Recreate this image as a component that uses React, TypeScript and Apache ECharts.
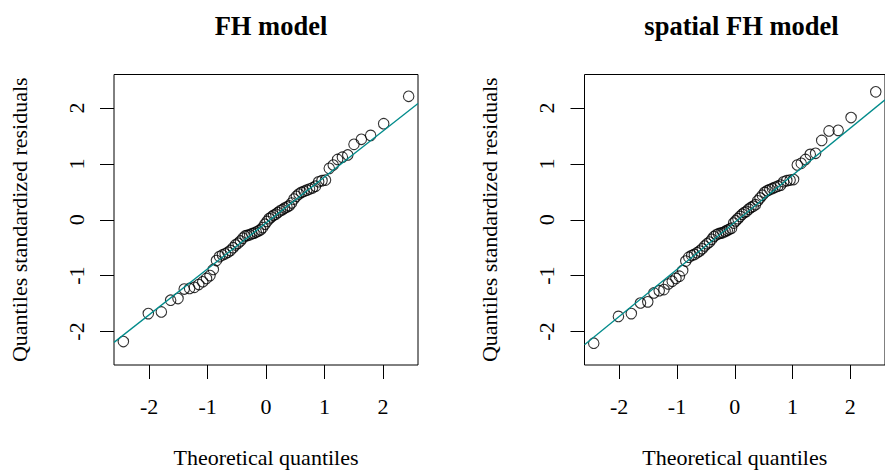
import React, { useEffect, useRef } from "react";
import * as echarts from "echarts";

// Theoretical normal quantiles (x positions of the 68 points)
const theoreticalQuantiles = [
  -2.44, -2.013, -1.79, -1.631, -1.505, -1.399, -1.307, -1.225, -1.15, -1.082,
  -1.018, -0.958, -0.901, -0.847, -0.795, -0.745, -0.698, -0.652, -0.607, -0.563,
  -0.52, -0.478, -0.437, -0.397, -0.358, -0.319, -0.28, -0.242, -0.204, -0.167,
  -0.129, -0.092, -0.055, -0.018,
  0.018, 0.055, 0.092, 0.129, 0.167, 0.204, 0.242, 0.28, 0.319, 0.358,
  0.397, 0.437, 0.478, 0.52, 0.563, 0.607, 0.652, 0.698, 0.745, 0.795,
  0.847, 0.901, 0.958, 1.018, 1.082, 1.15, 1.225, 1.307, 1.399, 1.505,
  1.631, 1.79, 2.013, 2.44,
];

// Sorted standardized residuals, FH model
const fhResiduals = [
  -2.18, -1.68, -1.65, -1.44, -1.41, -1.24, -1.23, -1.21, -1.16, -1.11,
  -1.05, -1.0, -0.89, -0.73, -0.66, -0.63, -0.61, -0.58, -0.55, -0.5,
  -0.45, -0.42, -0.38, -0.33, -0.29, -0.28, -0.27, -0.25, -0.24, -0.22,
  -0.2, -0.18, -0.14, -0.08,
  -0.03, 0.02, 0.05, 0.08, 0.1, 0.13, 0.16, 0.18, 0.21, 0.23,
  0.25, 0.3, 0.37, 0.42, 0.46, 0.49, 0.51, 0.53, 0.55, 0.57,
  0.6, 0.68, 0.7, 0.71, 0.92, 0.98, 1.08, 1.12, 1.16, 1.35,
  1.44, 1.51, 1.72, 2.21,
];

// Sorted standardized residuals, spatial FH model
const spatialFhResiduals = [
  -2.21, -1.73, -1.68, -1.49, -1.47, -1.31, -1.27, -1.25, -1.15, -1.1,
  -1.05, -1.01, -0.91, -0.74, -0.67, -0.64, -0.62, -0.59, -0.56, -0.52,
  -0.47, -0.43, -0.4, -0.35, -0.3, -0.27, -0.25, -0.24, -0.23, -0.21,
  -0.19, -0.17, -0.15, -0.06,
  -0.02, 0.02, 0.06, 0.1, 0.13, 0.15, 0.19, 0.22, 0.24, 0.27,
  0.34, 0.39, 0.44, 0.49, 0.52, 0.54, 0.56, 0.58, 0.6, 0.62,
  0.68, 0.7, 0.71, 0.72, 0.98, 1.01, 1.08, 1.17, 1.19, 1.42,
  1.59, 1.6, 1.83, 2.29,
];

// qqline: [intercept, slope]
const fhLine = [-0.058, 0.822];
const spatialFhLine = [-0.046, 0.843];

const axisRange = [-2.6, 2.6];
const tickValues = [-2, -1, 0, 1, 2];
const panelTitles = ["FH model", "spatial FH model"];
const xAxisTitle = "Theoretical quantiles";
const yAxisTitle = "Quantiles standardized residuals";

const FONT = "'Liberation Serif', 'Times New Roman', serif";

export default function App() {
  const ref = useRef<HTMLDivElement>(null);

  useEffect(() => {
    if (!ref.current) return;
    const chart = echarts.init(ref.current, undefined, { renderer: "svg" });

    const gridLefts = [114, 584.5];
    const residualSets = [fhResiduals, spatialFhResiduals];
    const lines = [fhLine, spatialFhLine];

    const grids = gridLefts.map((l) => ({
      left: l,
      top: 74.5,
      width: 304,
      height: 290.5,
      show: true,
      borderColor: "#000",
      borderWidth: 1,
      backgroundColor: "transparent",
      containLabel: false,
    }));

    const axisCommon = {
      type: "value" as const,
      min: axisRange[0],
      max: axisRange[1],
      splitLine: { show: false },
      axisLine: { show: false, onZero: false },
      axisTick: {
        show: true,
        inside: false,
        length: 14,
        customValues: tickValues,
        lineStyle: { color: "#000", width: 1 },
      },
      nameLocation: "middle" as const,
      nameTextStyle: { fontFamily: FONT, fontSize: 22, color: "#000" },
    };

    const xAxes = gridLefts.map((_, i) => ({
      ...axisCommon,
      gridIndex: i,
      position: "bottom" as const,
      name: xAxisTitle,
      nameGap: 81,
      axisLabel: {
        show: true,
        customValues: tickValues,
        margin: 30,
        fontFamily: FONT,
        fontSize: 22,
        color: "#000",
        formatter: (v: number) => String(v),
      },
    }));

    const yAxes = gridLefts.map((_, i) => ({
      ...axisCommon,
      gridIndex: i,
      position: "left" as const,
      name: yAxisTitle,
      nameGap: 84,
      axisLabel: {
        show: true,
        customValues: tickValues,
        margin: 27,
        rotate: 90,
        fontFamily: FONT,
        fontSize: 22,
        color: "#000",
        formatter: (v: number) => String(v),
      },
    }));

    const series: any[] = [];
    residualSets.forEach((res, i) => {
      series.push({
        type: "scatter",
        xAxisIndex: i,
        yAxisIndex: i,
        data: theoreticalQuantiles.map((q, k) => [q, res[k]]),
        symbol: "circle",
        symbolSize: 10.5,
        itemStyle: {
          color: "rgba(0,0,0,0)",
          borderColor: "#000",
          borderWidth: 1.1,
        },
        silent: true,
        z: 2,
      });
      const [a, b] = lines[i];
      series.push({
        type: "line",
        xAxisIndex: i,
        yAxisIndex: i,
        data: [
          [axisRange[0], a + b * axisRange[0]],
          [axisRange[1], a + b * axisRange[1]],
        ],
        showSymbol: false,
        lineStyle: { color: "#008B8B", width: 1.3 },
        silent: true,
        z: 3,
      });
    });

    const titles = gridLefts.map((l, i) => ({
      text: panelTitles[i],
      left: l + 152,
      top: 7,
      textAlign: "center" as const,
      textStyle: {
        fontFamily: FONT,
        fontSize: 26.5,
        fontWeight: "bold" as const,
        color: "#000",
      },
    }));

    chart.setOption({
      animation: false,
      backgroundColor: "#fff",
      title: titles,
      grid: grids,
      xAxis: xAxes,
      yAxis: yAxes,
      series,
    });

    return () => chart.dispose();
  }, []);

  return (
    <div
      ref={ref}
      style={{ position: "absolute", left: 0, top: 0, width: 885, height: 476 }}
    />
  );
}
